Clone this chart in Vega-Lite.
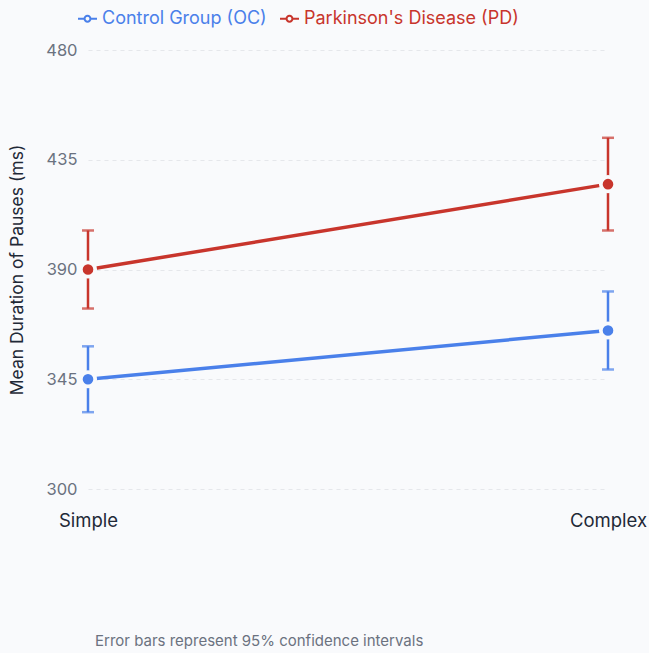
{
  "$schema": "https://vega.github.io/schema/vega-lite/v6.json",
  "autosize": {"type": "none"},
  "padding": {"left": 88, "top": 50, "right": 41, "bottom": 164},
  "width": 520,
  "height": 439,
  "background": "#f9fafc",
  "title": {
    "text": "Error bars represent 95% confidence intervals",
    "orient": "bottom",
    "anchor": "start",
    "frame": "group",
    "dx": 7,
    "offset": 104,
    "fontSize": 15,
    "fontWeight": "normal",
    "color": "#6b7280",
    "font": "Inter"
  },
  "config": {
    "font": "Inter",
    "view": {"stroke": null},
    "axis": {"labelFont": "Inter", "titleFont": "Inter"},
    "legend": {"labelFont": "Inter"}
  },
  "data": {
    "values": [
      {"condition": "Simple", "group": "Control Group (OC)", "mean": 345, "lower": 331.5, "upper": 358.5},
      {"condition": "Complex", "group": "Control Group (OC)", "mean": 365, "lower": 349, "upper": 381},
      {"condition": "Simple", "group": "Parkinson's Disease (PD)", "mean": 390, "lower": 374, "upper": 406},
      {"condition": "Complex", "group": "Parkinson's Disease (PD)", "mean": 425, "lower": 406, "upper": 444}
    ]
  },
  "encoding": {
    "x": {
      "field": "condition",
      "type": "nominal",
      "sort": ["Simple", "Complex"],
      "scale": {"type": "point", "padding": 0},
      "axis": {
        "title": null,
        "labelAngle": 0,
        "labelFontSize": 18.5,
        "labelColor": "#1f2937",
        "labelPadding": 22,
        "domain": false,
        "ticks": false,
        "grid": false
      }
    },
    "color": {
      "field": "group",
      "type": "nominal",
      "scale": {
        "domain": ["Control Group (OC)", "Parkinson's Disease (PD)"],
        "range": ["#4a80ea", "#c8352c"]
      },
      "legend": {
        "orient": "none",
        "direction": "horizontal",
        "legendX": -10,
        "legendY": -41,
        "title": null,
        "labelFontSize": 18,
        "labelLimit": 400,
        "symbolType": "M-1,-0.1H-0.38V0.1H-1Z M0.38,-0.1H1V0.1H0.38Z M-0.42,0A0.42,0.42 0 1,1 0.42,0A0.42,0.42 0 1,1 -0.42,0Z M-0.2,0A0.2,0.2 0 1,0 0.2,0A0.2,0.2 0 1,0 -0.2,0Z",
        "symbolSize": 361,
        "symbolStrokeWidth": 0,
        "columnPadding": 13,
        "labelOffset": 5,
        "encode": {
          "symbols": {"update": {"strokeWidth": {"value": 0}, "opacity": {"value": 1}}},
          "labels": {"update": {"fill": {"scale": "color", "field": "value"}}}
        }
      }
    }
  },
  "layer": [
    {
      "mark": {"type": "line", "strokeWidth": 3.5},
      "encoding": {
        "y": {
          "field": "mean",
          "type": "quantitative",
          "scale": {"domain": [300, 480], "nice": false, "zero": false},
          "axis": {
            "title": "Mean Duration of Pauses (ms)",
            "titleFontSize": 17.5,
            "titleFontWeight": "normal",
            "titleColor": "#1f2937",
            "titlePadding": 19,
            "values": [300, 345, 390, 435, 480],
            "labelFontSize": 16.5,
            "labelColor": "#6b7280",
            "labelPadding": 11,
            "domain": false,
            "ticks": false,
            "grid": true,
            "gridColor": "#e5e7eb",
            "gridDash": [4, 4],
            "gridWidth": 1
          }
        }
      }
    },
    {
      "mark": {"type": "rule", "strokeWidth": 2.5},
      "encoding": {
        "y": {"field": "lower", "type": "quantitative"},
        "y2": {"field": "upper"}
      }
    },
    {
      "mark": {"type": "tick", "size": 12, "thickness": 2.5},
      "encoding": {"y": {"field": "lower", "type": "quantitative"}}
    },
    {
      "mark": {"type": "tick", "size": 12, "thickness": 2.5},
      "encoding": {"y": {"field": "upper", "type": "quantitative"}}
    },
    {
      "mark": {"type": "point", "filled": true, "size": 206, "opacity": 1, "stroke": "#f9fafc", "strokeWidth": 3.75},
      "encoding": {"y": {"field": "mean", "type": "quantitative"}}
    }
  ]
}
